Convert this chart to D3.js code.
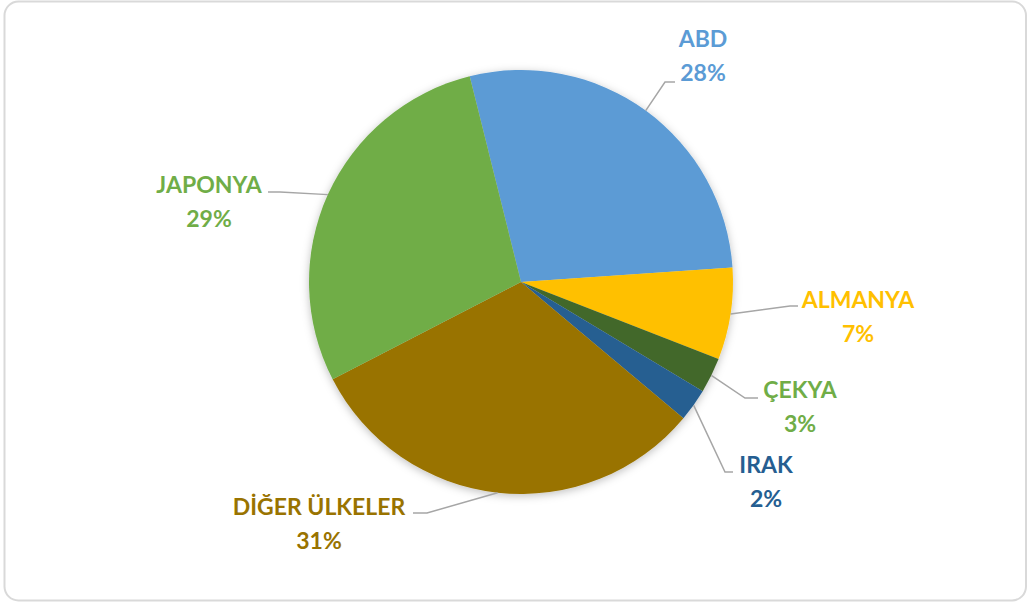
<!DOCTYPE html>
<html>
<head>
<meta charset="utf-8">
<script src="https://cdn.jsdelivr.net/npm/d3@7"></script>
<style>
  body { margin: 0; background: #fff; }
  svg { display: block; }
</style>
</head>
<body>
<svg id="chart" width="1028" height="605"></svg>
<script>
// ülkeler ve paylar
const ulkeler = ["ABD", "ALMANYA", "ÇEKYA", "IRAK", "DİĞER ÜLKELER", "JAPONYA"];
const paylar = [27.8, 7.0, 2.7, 2.5, 31.3, 28.7];
const yuzdeEtiket = ["28%", "7%", "3%", "2%", "31%", "29%"];
const renkler = ["#5b9bd5", "#ffc000", "#43682b", "#255e91", "#997300", "#70ad47"];
const yaziRenk = ["#5b9bd5", "#ffc000", "#70ad47", "#255e91", "#997300", "#70ad47"];

// etiket yerleşimi (pasta merkezine göre): yazı merkezi, ilk satır tabanı, kılavuz çizgi dirseği/ucu
const yerlesim = [
    {tx: 182, ty: -235, ex: 144, ey: -200, sx: 154, anchor: "middle"},
    {tx: 337, ty: 26, ex: 269, ey: 24, sx: 277, anchor: "middle"},
    {tx: 279, ty: 116, ex: 224, ey: 116, sx: 237, anchor: "middle"},
    {tx: 245, ty: 191, ex: 204, ey: 190, sx: 212, anchor: "middle"},
    {tx: -202, ty: 233, ex: -94, ey: 231, sx: -108, anchor: "middle"},
    {tx: -312, ty: -89, ex: -241, ey: -90, sx: -253, anchor: "middle"}
];

const svg = d3.select("#chart"),
    width = +svg.attr("width"),
    height = +svg.attr("height");

svg.append("rect")
    .attr("x", 4.5).attr("y", 1.5)
    .attr("width", 1021.5).attr("height", 599)
    .attr("rx", 14)
    .attr("fill", "#fff")
    .attr("stroke", "#d9d9d9")
    .attr("stroke-width", 2);

const defs = svg.append("defs");
const f = defs.append("filter").attr("id", "golge")
    .attr("x", "-20%").attr("y", "-20%").attr("width", "140%").attr("height", "140%");
f.append("feDropShadow")
    .attr("dx", 0).attr("dy", 2)
    .attr("stdDeviation", 4)
    .attr("flood-color", "#000")
    .attr("flood-opacity", 0.25);

const cx = 521, cy = 282, r = 212;
const aci = -14 * Math.PI / 180;

const pie = d3.pie().sort(null)
    .startAngle(aci).endAngle(aci + 2 * Math.PI)
    .value(d => d);
const dilimler = pie(paylar);

const arc = d3.arc().innerRadius(0).outerRadius(r);

const g = svg.append("g").attr("transform", "translate(" + cx + "," + cy + ")");

g.append("g").attr("filter", "url(#golge)")
    .selectAll("path")
    .data(dilimler)
    .enter().append("path")
    .attr("d", arc)
    .attr("fill", (d, i) => renkler[i]);

// kılavuz çizgiler
g.selectAll("polyline.leader")
    .data(dilimler)
    .enter().append("polyline")
    .attr("class", "leader")
    .attr("fill", "none")
    .attr("stroke", "#a6a6a6")
    .attr("stroke-width", 1.5)
    .attr("points", (d, i) => {
        const a = (d.startAngle + d.endAngle) / 2;
        const p0 = [Math.sin(a) * r, -Math.cos(a) * r];
        const l = yerlesim[i];
        return [p0, [l.ex, l.ey], [l.sx, l.ey]].map(p => p.join(",")).join(" ");
    });

// etiketler
const etiket = g.selectAll("text.lbl")
    .data(dilimler)
    .enter().append("text")
    .attr("class", "lbl")
    .attr("font-family", "Lato, 'Open Sans', sans-serif")
    .attr("font-weight", "bold")
    .attr("font-size", 23)
    .attr("text-anchor", (d, i) => yerlesim[i].anchor)
    .attr("fill", (d, i) => yaziRenk[i]);

etiket.append("tspan")
    .attr("x", (d, i) => yerlesim[i].tx)
    .attr("y", (d, i) => yerlesim[i].ty)
    .text((d, i) => ulkeler[i]);
etiket.append("tspan")
    .attr("x", (d, i) => yerlesim[i].tx)
    .attr("y", (d, i) => yerlesim[i].ty + 34)
    .text((d, i) => yuzdeEtiket[i]);
</script>
</body>
</html>
